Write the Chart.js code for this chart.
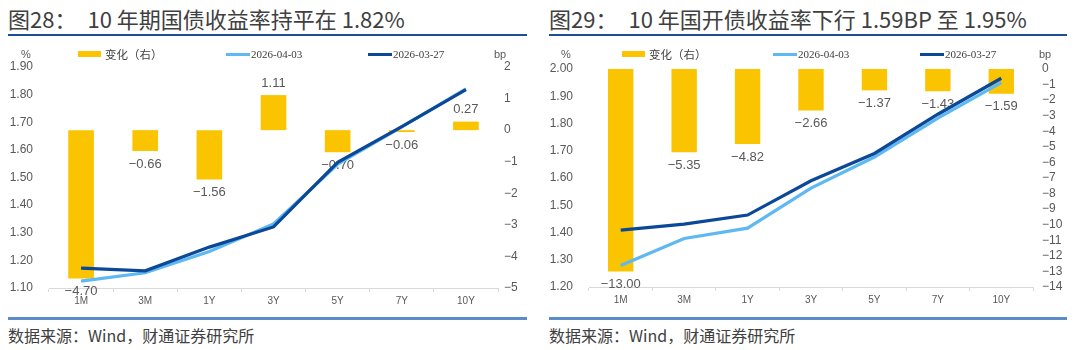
<!DOCTYPE html>
<html>
<head>
<meta charset="utf-8">
<script src="https://cdn.jsdelivr.net/npm/chart.js@4/dist/chart.umd.min.js"></script>
<style>
  body { margin:0; width:1080px; height:350px; background:#fff; position:relative; overflow:hidden;
         font-family:"Noto Sans CJK SC","Liberation Sans",sans-serif; }
  .title { position:absolute; top:4px; font-size:22px; line-height:28px; color:#404040; white-space:nowrap; }
  .rule  { position:absolute; top:34px; height:2px; background:#1f4f93; }
  .foot  { position:absolute; top:317px; height:3px; background:#5b8cc7; }
  .src   { position:absolute; top:325px; font-size:16px; line-height:20px; color:#404040; white-space:nowrap; }
  .box   { position:absolute; top:50px; width:540px; height:270px; }
  .unit  { position:absolute; top:46px; font:11px "Liberation Sans",sans-serif; line-height:16px; color:#595959; }
  .sw    { position:absolute; }
  .lt    { position:absolute; top:46px; line-height:16px; color:#404040; white-space:nowrap; }
  .lt.cjk { font:11.5px "Noto Sans CJK SC",sans-serif; line-height:16px; }
  .lt.date { font:11px "Liberation Serif",serif; line-height:16px; }
</style>
</head>
<body>
<div class="title" style="left:8px">图28：　10 年期国债收益率持平在 1.82%</div>
<div class="rule" style="left:8px;width:519px"></div>
<div class="title" style="left:549px">图29：　10 年国开债收益率下行 1.59BP 至 1.95%</div>
<div class="rule" style="left:549px;width:518px"></div>

<div class="box" style="left:0"><canvas id="c28"></canvas></div>
<div class="box" style="left:540px"><canvas id="c29"></canvas></div>

<div class="foot" style="left:8px;width:519px"></div>
<div class="foot" style="left:549px;width:518px"></div>
<div class="src" style="left:8px">数据来源：Wind，财通证券研究所</div>
<div class="src" style="left:549px">数据来源：Wind，财通证券研究所</div>

<script>
// Tenors shared by both panels
const categories = ['1M', '3M', '1Y', '3Y', '5Y', '7Y', '10Y'];
const seriesNames = ['变化（右）', '2026-04-03', '2026-03-27'];

// 图28: treasury curve (%) and weekly change (bp)
const cgbChange = [-4.70, -0.66, -1.56, 1.11, -0.70, -0.06, 0.27];
const cgb0403   = [1.125, 1.155, 1.232, 1.332, 1.548, 1.683, 1.821];
const cgb0327   = [1.172, 1.162, 1.248, 1.321, 1.555, 1.684, 1.818];
const cgbLeftRange  = [1.10, 1.90, 0.10];
const cgbRightRange = [-5, 2, 1];

// 图29: CDB curve (%) and weekly change (bp)
const cdbChange = [-13.00, -5.35, -4.82, -2.66, -1.37, -1.43, -1.59];
const cdb0403   = [1.279, 1.378, 1.416, 1.563, 1.677, 1.820, 1.950];
const cdb0327   = [1.409, 1.431, 1.464, 1.590, 1.690, 1.834, 1.966];
const cdbLeftRange  = [1.20, 2.00, 0.10];
const cdbRightRange = [-14, 0, 1];

const COLORS = { bar:'rgb(250,196,0)', light:'rgb(94,184,242)', dark:'rgb(12,72,152)', text:'#595959', axis:'#d9d9d9' };

const fmtNum = (v, d) => (v < 0 ? '\u2212' : '') + Math.abs(v).toFixed(d);

// value labels under/over each change bar, drawn before the curves
const barLabels = {
  id: 'barLabels',
  afterDatasetDraw(chart, args) {
    const ds = chart.data.datasets[args.index];
    if (ds.type !== 'bar') return;
    const ctx = chart.ctx;
    ctx.save();
    ctx.font = '13px "Liberation Sans", sans-serif';
    ctx.fillStyle = COLORS.text;
    ctx.textAlign = 'center';
    ctx.textBaseline = 'middle';
    args.meta.data.forEach((el, i) => {
      const v = ds.data[i];
      ctx.fillText(fmtNum(v, 2), el.x, v < 0 ? el.y + 13 : el.y - 12);
    });
    ctx.restore();
  }
};

function drawPanel(id, change, latest, prev, leftRange, rightRange, lay) {
  const fixY = (w) => (s) => { s.width = w; s.paddingTop = 0; s.paddingBottom = 0; };
  new Chart(document.getElementById(id), {
    type: 'bar',
    data: {
      labels: categories,
      datasets: [
        { type:'bar', label:seriesNames[0], data:change, yAxisID:'yR', backgroundColor:COLORS.bar,
          categoryPercentage:1, barPercentage:0.4, order:3 },
        { type:'line', label:seriesNames[1], data:latest, yAxisID:'yL', borderColor:COLORS.light,
          borderWidth:3.2, pointRadius:0, tension:0, order:2 },
        { type:'line', label:seriesNames[2], data:prev, yAxisID:'yL', borderColor:COLORS.dark,
          borderWidth:3.2, pointRadius:0, tension:0, order:1 }
      ]
    },
    options: {
      responsive:true, maintainAspectRatio:false, animation:false,
      layout:{ padding:{ top:lay.top, left:0, right:0, bottom:0 } },
      plugins:{ legend:{ display:false }, tooltip:{ enabled:false } },
      scales: {
        x: {
          offset:true,
          grid:{ display:true, offset:true, drawOnChartArea:false, drawTicks:true, tickLength:4, color:COLORS.axis },
          border:{ display:true, color:COLORS.axis, width:1 },
          ticks:{ color:COLORS.text, font:{ family:'"Liberation Sans Narrow","Liberation Sans",sans-serif', size:10 }, padding:3, maxRotation:0, autoSkip:false },
          afterFit(s){ s.height = lay.xh; s.paddingLeft = 0; s.paddingRight = 0; }
        },
        yL: {
          position:'left', min:leftRange[0], max:leftRange[1],
          grid:{ display:false, drawTicks:false }, border:{ display:false },
          ticks:{ stepSize:leftRange[2], color:COLORS.text, padding:16, autoSkip:false,
                  font:{ family:'"Liberation Sans",sans-serif', size:12 },
                  callback:v => Number(v).toFixed(2) },
          afterFit: fixY(lay.lw)
        },
        yR: {
          position:'right', min:rightRange[0], max:rightRange[1],
          grid:{ display:false, drawTicks:false }, border:{ display:false },
          ticks:{ stepSize:rightRange[2], color:COLORS.text, padding:lay.rp, autoSkip:false,
                  font:{ family:'"Liberation Sans",sans-serif', size:12 },
                  callback:v => fmtNum(Number(v), 0) },
          afterFit: fixY(lay.rw)
        }
      }
    },
    plugins:[barLabels]
  });
}

// legend rows and unit captions above each panel
function legend(x0, pos) {
  const b = document.body;
  const add = (html) => b.insertAdjacentHTML('beforeend', html);
  add(`<div class="unit" style="left:${x0 + pos.pct}px">%</div>`);
  add(`<div class="unit" style="left:${x0 + pos.bp}px">bp</div>`);
  add(`<div class="sw" style="left:${x0 + pos.s[0]}px;top:51px;width:23px;height:6px;background:${COLORS.bar}"></div>`);
  add(`<div class="lt cjk" style="left:${x0 + pos.s[0] + 27}px">${seriesNames[0]}</div>`);
  add(`<div class="sw" style="left:${x0 + pos.s[1]}px;top:52.5px;width:24px;height:3px;background:${COLORS.light}"></div>`);
  add(`<div class="lt date" style="left:${x0 + pos.s[1] + 25}px">${seriesNames[1]}</div>`);
  add(`<div class="sw" style="left:${x0 + pos.s[2]}px;top:52.5px;width:24px;height:3px;background:${COLORS.dark}"></div>`);
  add(`<div class="lt date" style="left:${x0 + pos.s[2] + 25}px">${seriesNames[2]}</div>`);
}

legend(0,   { pct:21, bp:494, s:[78, 226, 368] });
legend(540, { pct:21, bp:499, s:[82, 233, 380] });

drawPanel('c28', cgbChange, cgb0403, cgb0327, cgbLeftRange, cgbRightRange,
          { top:17, xh:32, lw:49, rw:42, rp:6 });
drawPanel('c29', cdbChange, cdb0403, cdb0327, cdbLeftRange, cdbRightRange,
          { top:19, xh:33, lw:49, rw:47, rp:9 });
</script>
</body>
</html>
